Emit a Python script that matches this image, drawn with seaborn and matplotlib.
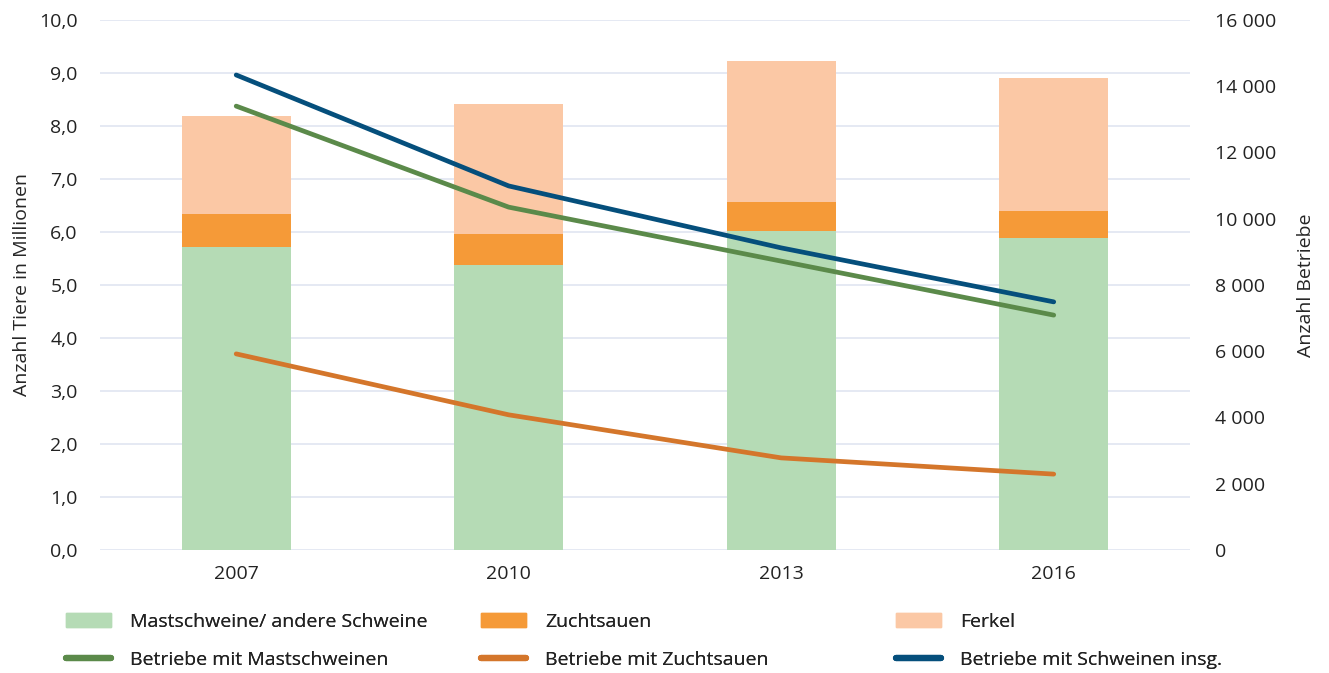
import numpy as np
import pandas as pd
import matplotlib
matplotlib.use("Agg")
import matplotlib.pyplot as plt
import matplotlib.ticker as ticker
from matplotlib.patches import Patch
from matplotlib.lines import Line2D
import seaborn as sns

# Daten
jahre = ["2007", "2010", "2013", "2016"]
mastschweine = [5.72, 5.38, 6.02, 5.89]      # Mio. Tiere
zuchtsauen = [0.62, 0.58, 0.55, 0.51]        # Mio. Tiere
ferkel = [1.85, 2.46, 2.66, 2.51]            # Mio. Tiere
betr_mast = [13400, 10350, 8720, 7090]
betr_zucht = [5920, 4080, 2780, 2290]
betr_insg = [14340, 10990, 9120, 7490]

c_mast, c_zucht, c_ferkel = "#b5dbb5", "#f59a38", "#fbc8a5"
c_l_mast, c_l_zucht, c_l_insg = "#5b8a4a", "#d4762b", "#054f7c"

sns.set_theme(style="white")
plt.rcParams['font.family'] = ['Open Sans', 'DejaVu Sans']
plt.rcParams['text.color'] = '#222222'
fs = 14

fig = plt.figure(figsize=(13.29, 6.73), dpi=100)
ax = fig.add_axes([0.0752, 0.1828, 0.8202, 0.7875])

bottom2 = np.array(mastschweine)
bottom3 = bottom2 + np.array(zuchtsauen)
bar_kw = dict(width=0.4, ax=ax, saturation=1, linewidth=0, edgecolor="none")
sns.barplot(x=jahre, y=mastschweine, color=c_mast, **bar_kw)
sns.barplot(x=jahre, y=zuchtsauen, bottom=bottom2, color=c_zucht, **bar_kw)
sns.barplot(x=jahre, y=ferkel, bottom=bottom3, color=c_ferkel, **bar_kw)

ax.set_ylim(0, 10)
ax.set_xlim(-0.5, 3.5)
ax.yaxis.set_major_locator(ticker.MultipleLocator(1))
ax.yaxis.set_major_formatter(ticker.FuncFormatter(lambda v, p: f"{v:.1f}".replace(".", ",")))
ax.grid(axis="y", color="#e3e7f2", linewidth=1.3)
ax.set_axisbelow(True)
for s in ax.spines.values():
    s.set_visible(False)
ax.tick_params(axis="both", length=0, labelsize=fs, colors="#222222")
ax.tick_params(axis="y", pad=16)
ax.tick_params(axis="x", pad=11)
ax.set_ylabel("Anzahl Tiere in Millionen", fontsize=fs, labelpad=6)
ax.set_xlabel("")

ax2 = ax.twinx()
df = pd.DataFrame({"Jahr": jahre, "mast": betr_mast, "zucht": betr_zucht, "insg": betr_insg})
sns.lineplot(data=df, x="Jahr", y="zucht", color=c_l_zucht, linewidth=3.4, ax=ax2)
sns.lineplot(data=df, x="Jahr", y="mast", color=c_l_mast, linewidth=3.4, ax=ax2)
sns.lineplot(data=df, x="Jahr", y="insg", color=c_l_insg, linewidth=3.4, ax=ax2)
ax2.set_ylim(0, 16000)
ax2.set_xlim(-0.5, 3.5)
ax2.yaxis.set_major_locator(ticker.MultipleLocator(2000))
ax2.yaxis.set_major_formatter(ticker.FuncFormatter(lambda v, p: f"{int(v):,}".replace(",", " ")))
for s in ax2.spines.values():
    s.set_visible(False)
ax2.tick_params(axis="y", length=0, labelsize=fs, colors="#222222", pad=18)
ax2.set_ylabel("Anzahl Betriebe", fontsize=fs, labelpad=15)
ax2.set_xlabel("")

# Legende: drei Spalten, jeweils Balken oben und Linie unten
spalten = [
    (c_mast, c_l_mast, "Mastschweine/ andere Schweine", "Betriebe mit Mastschweinen"),
    (c_zucht, c_l_zucht, "Zuchtsauen", "Betriebe mit Zuchtsauen"),
    (c_ferkel, c_l_insg, "Ferkel", "Betriebe mit Schweinen insg."),
]
for i, (cb, cl, lb, ll) in enumerate(spalten):
    h = [Patch(color=cb), Line2D([], [], color=cl, linewidth=4.5, solid_capstyle="round")]
    leg = fig.legend(h, [lb, ll], loc="upper left",
                     bbox_to_anchor=((58 + 415 * i) / 1329, 1 - 605 / 673),
                     frameon=False, fontsize=fs, handlelength=2.35, handleheight=0.75,
                     labelspacing=1.05, handletextpad=0.95, borderaxespad=0)
    fig.add_artist(leg)

fig.savefig("out.png", dpi=100)
